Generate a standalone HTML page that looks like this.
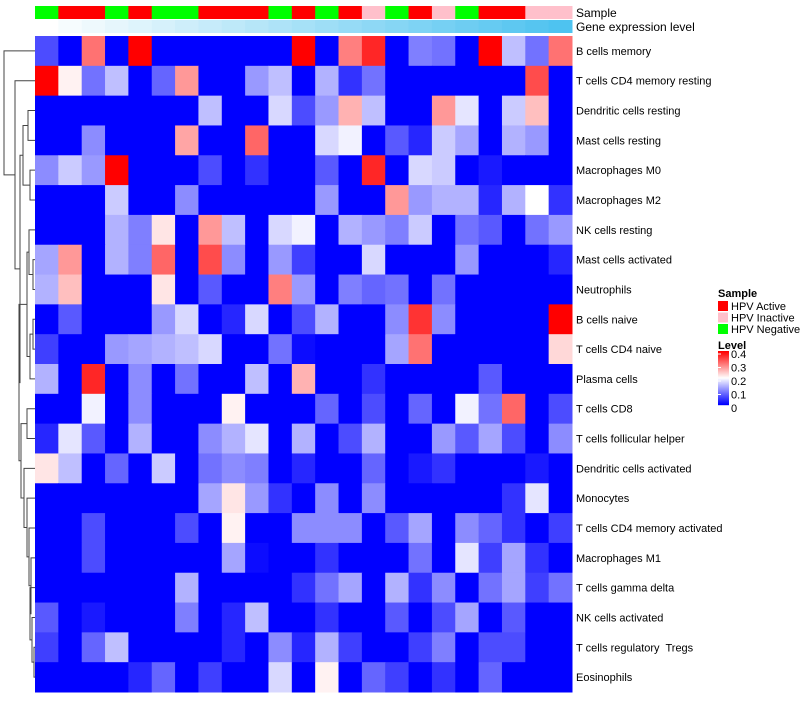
<!DOCTYPE html>
<html><head><meta charset="utf-8"><style>
body{margin:0;background:#fff;width:800px;height:700px;overflow:hidden;font-family:"Liberation Sans",sans-serif;}
svg text{font-family:"Liberation Sans",sans-serif;white-space:pre;}
</style></head><body>
<svg id="chart" width="800" height="700" xmlns="http://www.w3.org/2000/svg"></svg>
<script>
const rowLabels=["B cells memory","T cells CD4 memory resting","Dendritic cells resting","Mast cells resting","Macrophages M0","Macrophages M2","NK cells resting","Mast cells activated","Neutrophils","B cells naive","T cells CD4 naive","Plasma cells","T cells CD8","T cells follicular helper","Dendritic cells activated","Monocytes","T cells CD4 memory activated","Macrophages M1","T cells gamma delta","NK cells activated","T cells regulatory  Tregs","Eosinophils"];
const sampleGroups=["N","A","A","N","A","N","N","A","A","A","N","A","N","A","I","N","A","I","N","A","A","I","I"];
const values=[
[0.06,0,0.31,0,0.4,0,0,0,0,0,0,0.4,0,0.3,0.37,0,0.1,0.09,0,0.4,0.15,0.09,0.31],
[0.4,0.21,0.09,0.15,0,0.08,0.28,0,0,0.12,0.15,0,0.14,0.04,0.09,0,0,0,0,0,0,0.34,0],
[0,0,0,0,0,0,0,0.15,0,0,0.17,0.06,0.12,0.26,0.15,0,0,0.28,0.18,0,0.16,0.25,0],
[0,0,0.11,0,0,0,0.27,0,0,0.32,0,0,0.17,0.19,0,0.07,0.03,0.16,0.13,0,0.14,0.12,0],
[0.11,0.16,0.12,0.4,0,0,0,0.06,0,0.04,0,0,0.07,0,0.37,0,0.17,0.16,0,0.02,0,0,0],
[0,0,0,0.16,0,0,0.11,0,0,0,0,0,0.12,0,0,0.28,0.12,0.14,0.14,0.03,0.14,0.2,0.04],
[0,0,0,0.14,0.1,0.22,0,0.28,0.15,0,0.17,0.19,0,0.14,0.12,0.1,0.16,0,0.09,0.07,0,0.09,0.12],
[0.13,0.28,0,0.14,0.1,0.32,0,0.34,0.11,0,0.12,0.05,0,0,0.17,0,0,0,0.12,0,0,0,0.03],
[0.14,0.25,0,0,0,0.22,0,0.07,0,0,0.3,0.12,0,0.1,0.08,0.09,0,0.09,0,0,0,0,0],
[0,0.07,0,0,0,0.12,0.17,0,0.03,0.17,0,0.06,0.14,0,0,0.11,0.36,0.11,0,0,0,0,0.4],
[0.05,0,0,0.12,0.13,0.14,0.15,0.17,0,0,0.09,0.01,0,0,0,0.13,0.31,0,0,0,0,0,0.23],
[0.14,0,0.37,0,0.11,0,0.09,0,0,0.15,0,0.26,0,0,0.04,0,0,0,0,0.07,0,0,0],
[0,0,0.19,0,0.11,0,0,0,0.21,0,0,0,0.08,0,0.06,0,0.08,0,0.19,0.09,0.32,0,0.06],
[0.03,0.18,0.07,0,0.14,0,0,0.11,0.14,0.18,0,0.14,0,0.06,0.14,0,0,0.12,0.07,0.13,0.06,0,0.11],
[0.22,0.15,0,0.08,0,0.16,0,0.09,0.11,0.1,0,0.03,0,0,0.08,0,0.02,0.04,0,0,0,0.02,0],
[0,0,0,0,0,0,0,0.13,0.22,0.12,0.04,0,0.11,0,0.11,0,0,0,0,0,0.04,0.18,0],
[0,0,0.06,0,0,0,0.06,0,0.21,0,0,0.11,0.11,0.11,0,0.07,0.13,0,0.11,0.08,0.04,0,0.05],
[0,0,0.06,0,0,0,0,0,0.13,0.01,0,0,0.04,0,0,0,0.09,0,0.18,0.05,0.13,0.04,0],
[0,0,0,0,0,0,0.14,0,0,0,0,0.04,0.09,0.13,0,0.14,0.04,0.11,0,0.09,0.13,0.05,0.09],
[0.07,0,0.02,0,0,0,0.1,0,0.03,0.15,0,0,0.04,0,0,0.07,0,0.06,0.13,0,0.07,0,0],
[0.05,0,0.08,0.15,0,0,0,0,0.03,0,0.11,0.03,0.14,0.05,0,0,0.05,0.1,0,0.06,0.06,0,0],
[0,0,0,0,0.03,0.08,0,0.05,0,0,0.17,0,0.21,0,0.08,0.05,0,0.04,0,0.08,0,0,0]];
const legendTicks=[0,0.1,0.2,0.3,0.4];
const sampleNames={A:"HPV Active",I:"HPV Inactive",N:"HPV Negative"};
const sampleColors={A:"#ff0000",I:"#ffc0cb",N:"#00ff00"};
// dendrogram: [height, left, right] or leaf index
const tree=[4,0,[15,1,[20,[23,[28,2,3],[30,4,5]],[19,[27,[29,6,[33,7,8]],[30,[33,9,10],11]],[21,[27,12,13],[24,14,[27,15,[29,16,[31,17,[30,18,[32,19,[34,20,21]]]]]]]]]]]];

const NS="http://www.w3.org/2000/svg";
const svg=document.getElementById('chart');
function mk(t,a){const e=document.createElementNS(NS,t);for(const k in a)e.setAttribute(k,a[k]);svg.appendChild(e);return e;}
const X0=35,X1=572,Y0=36,Y1=692;
const nC=values[0].length,nR=values.length;
const cw=(X1-X0)/nC,rh=(Y1-Y0)/nR;
const xS=c=>X0+c*cw, yS=r=>Y0+r*rh;
function col(v){v=Math.max(0,Math.min(0.4,v));let r,g,b;
 if(v<=0.2){const t=v/0.2;r=255*t;g=255*t;b=255;}else{const t=(v-0.2)/0.2;r=255;g=255*(1-t);b=255*(1-t);}
 return `rgb(${r|0},${g|0},${b|0})`;}
for(let c=0;c<nC;c++){
 const e=mk('rect',{x:xS(c),y:6,width:cw+0.5,height:13,fill:sampleColors[sampleGroups[c]]});
 
 
 const t=c/(nC-1);
 const g=mk('rect',{x:xS(c),y:20,width:cw+0.5,height:13,fill:`rgb(${(255-177*t)|0},${(255-60*t)|0},${(255-15*t)|0})`});
 
 
}
let t1=mk('text',{x:576,y:17,'font-size':12,fill:'#000'});t1.textContent="Sample";

let t2=mk('text',{x:576,y:31,'font-size':12,fill:'#000'});t2.textContent="Gene expression level";

for(let r=0;r<nR;r++){for(let c=0;c<nC;c++){
 const e=mk('rect',{x:xS(c),y:yS(r),width:cw+0.5,height:rh+0.5,fill:col(values[r][c])});
 
 
}
 const l=mk('text',{x:576,y:yS(r)+rh/2+4,'font-size':11,fill:'#000'});l.textContent=rowLabels[r];
 
 
}
function draw(n){
 if(typeof n==='number')return {x:X0,y:yS(n)+rh/2};
 const h=n[0],a=draw(n[1]),b=draw(n[2]);
 const d=`M${a.x},${a.y}H${h}V${b.y}H${b.x}`;
 const p=mk('path',{d:d,fill:'none',stroke:'#444','stroke-width':1});
 
 
 return {x:h,y:(a.y+b.y)/2};
}
draw(tree);
let lt=mk('text',{x:718,y:297,'font-size':11,'font-weight':'bold'});lt.textContent="Sample";

["A","I","N"].forEach((k,i)=>{
 const r=mk('rect',{x:718,y:301+i*11.5,width:10,height:10,fill:sampleColors[k]});
 
 
 const t=mk('text',{x:731,y:310+i*11.5,'font-size':11});t.textContent=sampleNames[k];
 
 
});
let lv=mk('text',{x:718,y:349,'font-size':11,'font-weight':'bold'});lv.textContent="Level";

const LY0=354,LY1=408;
const ly=v=>LY1-(v/0.4)*(LY1-LY0);
for(let i=0;i<54;i++){
 const v=0.4*(1-i/53);
 const r=mk('rect',{x:718,y:351+i,width:11,height:1.2,fill:col(v)});
 
 
}
legendTicks.forEach(v=>{
 const y=ly(v);
 const tk=mk('line',{x1:718,x2:721,y1:y,y2:y,stroke:'#fff'});
 
 
 const t=mk('text',{x:731,y:y+4,'font-size':11});t.textContent=String(v);
 
 
});
</script>
</body></html>
